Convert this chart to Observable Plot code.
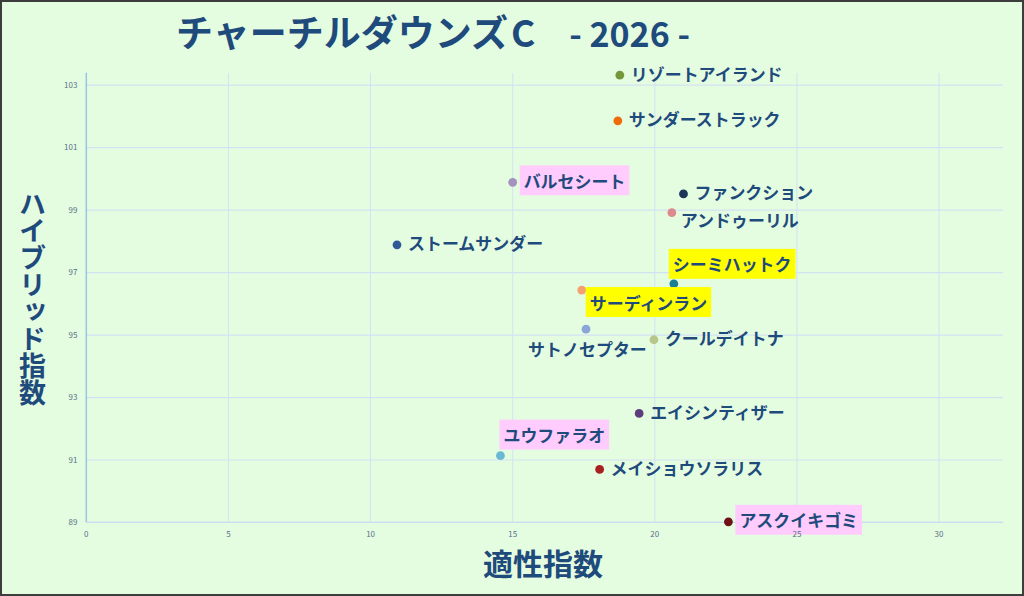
<!DOCTYPE html>
<html><head><meta charset="utf-8">
<script src="https://cdn.jsdelivr.net/npm/d3@7"></script>
<script src="https://cdn.jsdelivr.net/npm/@observablehq/plot@0.6"></script>
<style>
html,body{margin:0;padding:0;background:#fff;}
#wrap{position:relative;width:1024px;height:596px;box-sizing:border-box;border:2px solid #3d3d3d;background:#e4fde1;overflow:hidden;font-family:"Noto Sans CJK JP",sans-serif;}
#chart{position:absolute;left:-2px;top:-2px;}
#title{position:absolute;left:174px;top:7px;font-size:37px;font-weight:700;color:#1f4a7c;white-space:pre;line-height:1.2;}
#title .c{margin-left:3px;}
#title .num{font-size:34px;margin-left:34px;}
#ylabel{position:absolute;left:17px;top:188px;writing-mode:vertical-rl;text-orientation:upright;font-size:27px;font-weight:700;color:#1f4a7c;line-height:1;letter-spacing:0px;}
#xlabel{position:absolute;left:481px;top:542px;font-size:30px;font-weight:700;color:#1f4a7c;line-height:1.2;}
</style></head>
<body>
<div id="wrap">
  <div id="chart"></div>
  <div id="title">チャーチルダウンズ<span class="c">C</span><span class="num">- 2026 -</span></div>
  <div id="ylabel">ハイブリッド指数</div>
  <div id="xlabel">適性指数</div>
</div>
<script>
const names = ["リゾートアイランド","サンダーストラック","バルセシート","ファンクション","アンドゥーリル","ストームサンダー","シーミハットク","サーディンラン","サトノセプター","クールデイトナ","エイシンティザー","ユウファラオ","メイショウソラリス","アスクイキゴミ"];
const suitability = [18.77, 18.70, 15.00, 21.01, 20.60, 10.93, 20.67, 17.43, 17.58, 19.97, 19.45, 14.57, 18.06, 22.59];
const hybrid = [103.32, 101.86, 99.89, 99.52, 98.92, 97.89, 96.64, 96.44, 95.19, 94.85, 92.49, 91.14, 90.70, 89.02];
const dotColors = ["#76963a","#ee6a0a","#a592c2","#1d3556","#dc8a8d","#2f5a98","#1b7f93","#f3a16e","#8aa6d9","#b7c68a","#5e3d7c","#6bb8d4","#a92020","#6e1016"];
const highlight = ["","","pink","","","","yellow","yellow","","","","pink","","pink"];
const labelPos = ["right","right","right","right","belowRight","right","above","belowRightHl","belowLeft","right","right","aboveHl","right","right"];
const xTicks = [0,5,10,15,20,25,30];
const yTicks = [89,91,93,95,97,99,101,103];

const data = names.map((n,i)=>({name:n, x:suitability[i], y:hybrid[i], color:dotColors[i], hl:highlight[i], pos:labelPos[i]}));

const offsets = {
  right:{dx:11, dy:0},
  belowRight:{dx:9, dy:9},
  above:{dx:-1, dy:-18},
  belowRightHl:{dx:8, dy:14},
  belowLeft:{dx:-58, dy:21},
  aboveHl:{dx:3, dy:-19}
};
const hlFill = {pink:"#ffccfd", yellow:"#ffff00"};

const textMarks = [];
for (const [pos, off] of Object.entries(offsets)) {
  for (const hl of ["", "pink", "yellow"]) {
    const subset = data.filter(d => d.pos === pos && d.hl === hl);
    if (!subset.length) continue;
    textMarks.push(Plot.text(subset, {
      x:"x", y:"y", text:"name", dx:off.dx, dy:off.dy,
      textAnchor:"start", lineAnchor:"middle",
      fontSize:17, fontWeight:700, fill:"#1f4a7c",
      ariaDescription: hl ? "hl-" + hl : "label"
    }));
  }
}

const chart = Plot.plot({
  width:1024, height:596,
  marginLeft:86, marginRight:19, marginTop:73, marginBottom:73,
  style:{background:"transparent", fontFamily:"'Noto Sans CJK JP', sans-serif", overflow:"visible"},
  x:{domain:[0,32.27], ticks:xTicks},
  y:{domain:[89,103.38], ticks:yTicks},
  color:{type:"identity"},
  marks:[
    Plot.gridX(xTicks, {stroke:"#d3e2f2", strokeOpacity:1, strokeWidth:1}),
    Plot.gridY(yTicks, {stroke:"#d3e2f2", strokeOpacity:1, strokeWidth:1.2}),
    Plot.ruleX([0], {stroke:"#9cc2e8", strokeWidth:1.5}),
    Plot.ruleY([89], {stroke:"#cadcf0", strokeWidth:1.2}),
    Plot.axisY(yTicks, {tickSize:0, tickPadding:9, fontSize:8, fill:"#5a6f88", label:null}),
    Plot.dot(data, {x:"x", y:"y", r:4.4, fill:"color", stroke:"none", style:"filter: drop-shadow(1px 1.5px 1px rgba(0,0,0,0.35))"}),
    ...textMarks,
    Plot.axisX(xTicks, {tickSize:0, tickPadding:9, fontSize:8, fill:"#5a6f88", label:null})
  ]
});
document.getElementById("chart").appendChild(chart);

// highlighted label backgrounds
for (const hl of ["pink","yellow"]) {
  d3.select(chart).selectAll(`g[aria-description="hl-${hl}"] text`).each(function(){
    const b = this.getBBox();
    const cy = b.y + b.height/2;
    const t = this.getAttribute("transform");
    d3.select(this.parentNode).insert("rect", () => this)
      .attr("x", b.x - 4).attr("y", cy - 15)
      .attr("width", b.width + 8).attr("height", 30)
      .attr("fill", hlFill[hl])
      .attr("transform", t);
  });
}
</script>
</body></html>
